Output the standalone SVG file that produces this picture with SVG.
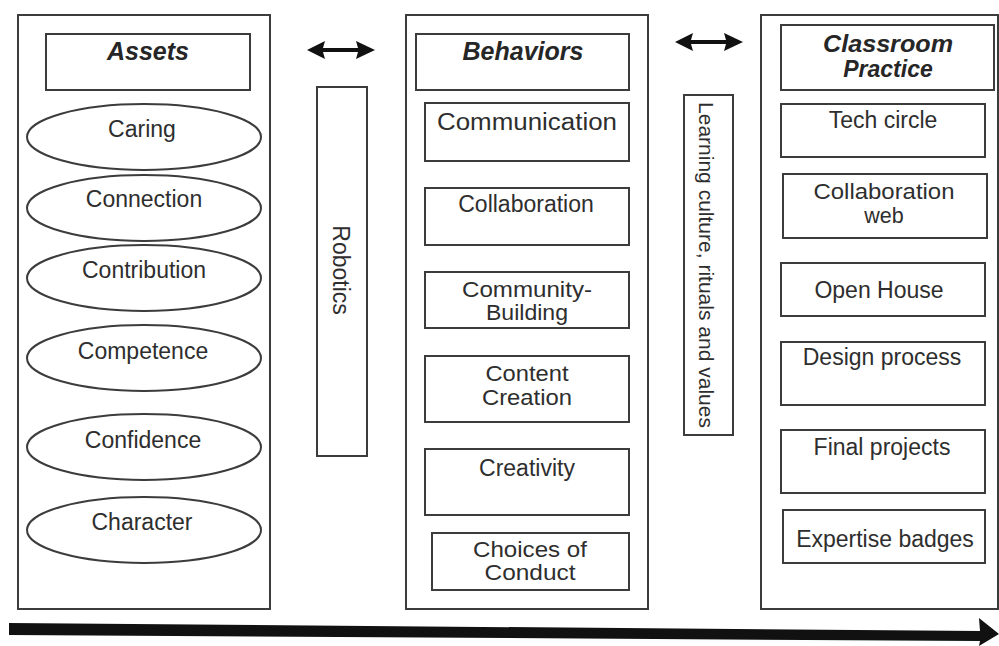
<svg xmlns="http://www.w3.org/2000/svg" width="999" height="646" viewBox="0 0 999 646">
<style>
.box{fill:none;stroke:#3c3c3c;stroke-width:2}
.t{font-family:"Liberation Sans",Arial,sans-serif;font-size:23px;fill:#2e2e2e;text-anchor:middle}
.t2{font-family:"Liberation Sans",Arial,sans-serif;font-size:21.5px;fill:#2e2e2e;text-anchor:middle}
.h{font-family:"Liberation Sans",Arial,sans-serif;font-size:25px;font-weight:bold;font-style:italic;fill:#262626;text-anchor:middle}
.h2{font-family:"Liberation Sans",Arial,sans-serif;font-size:23px;font-weight:bold;font-style:italic;fill:#262626;text-anchor:middle}
.arr{fill:#111;stroke:none}
</style>
<rect width="999" height="646" fill="#fff"/>
<g id="col-assets">
<rect class="box" x="18" y="15" width="252" height="594"/>
<g id="assets-header"><rect class="box" x="46" y="34" width="204" height="56"/><text class="h" x="148" y="60">Assets</text></g>
<g id="caring"><ellipse class="box" cx="144" cy="137" rx="117" ry="33"/><text class="t" x="142" y="137">Caring</text></g>
<g id="connection"><ellipse class="box" cx="144" cy="208" rx="117" ry="33"/><text class="t" x="144" y="207">Connection</text></g>
<g id="contribution"><ellipse class="box" cx="144" cy="278" rx="117" ry="33"/><text class="t" x="144" y="278">Contribution</text></g>
<g id="competence"><ellipse class="box" cx="144" cy="358" rx="117" ry="33"/><text class="t" x="143" y="359">Competence</text></g>
<g id="confidence"><ellipse class="box" cx="144" cy="447" rx="117" ry="33"/><text class="t" x="143" y="448">Confidence</text></g>
<g id="character"><ellipse class="box" cx="144" cy="530" rx="117" ry="33"/><text class="t" x="142" y="530">Character</text></g>
</g>
<g id="robotics">
<rect class="box" x="317" y="87" width="50" height="369"/>
<text class="t" transform="translate(333,270) rotate(90)" x="0" y="0">Robotics</text>
</g>
<g id="col-behaviors">
<rect class="box" x="406" y="15" width="242" height="594"/>
<g id="behaviors-header"><rect class="box" x="416" y="34" width="213" height="56"/><text class="h" x="523" y="60">Behaviors</text></g>
<g id="communication"><rect class="box" x="425" y="103" width="204" height="58"/><text class="t" x="527" y="130" textLength="180" lengthAdjust="spacingAndGlyphs">Communication</text></g>
<g id="collaboration"><rect class="box" x="425" y="188" width="204" height="57"/><text class="t" x="526" y="212">Collaboration</text></g>
<g id="community"><rect class="box" x="425" y="272" width="204" height="56"/><text class="t2" x="527" y="297" textLength="130" lengthAdjust="spacingAndGlyphs">Community-</text><text class="t2" x="527" y="320" textLength="82" lengthAdjust="spacingAndGlyphs">Building</text></g>
<g id="content"><rect class="box" x="425" y="356" width="204" height="66"/><text class="t2" x="527" y="381" textLength="83" lengthAdjust="spacingAndGlyphs">Content</text><text class="t2" x="527" y="405" textLength="90" lengthAdjust="spacingAndGlyphs">Creation</text></g>
<g id="creativity"><rect class="box" x="425" y="449" width="204" height="66"/><text class="t" x="527" y="476">Creativity</text></g>
<g id="choices"><rect class="box" x="432" y="533" width="197" height="57"/><text class="t2" x="530" y="557" textLength="114" lengthAdjust="spacingAndGlyphs">Choices of</text><text class="t2" x="530" y="580" textLength="91" lengthAdjust="spacingAndGlyphs">Conduct</text></g>
</g>
<g id="learning-culture">
<rect class="box" x="684" y="95" width="49" height="340"/>
<text class="t" style="font-size:20px" transform="translate(699,265) rotate(90)" x="0" y="0" textLength="326" lengthAdjust="spacingAndGlyphs">Learning culture, rituals and values</text>
</g>
<g id="col-practice">
<rect class="box" x="761" y="15" width="237" height="594"/>
<g id="practice-header"><rect class="box" x="781" y="25" width="213" height="65"/><text class="h2" x="888" y="52" textLength="130" lengthAdjust="spacingAndGlyphs">Classroom</text><text class="h2" x="888" y="77">Practice</text></g>
<g id="tech-circle"><rect class="box" x="781" y="104" width="204" height="53"/><text class="t" x="883" y="128">Tech circle</text></g>
<g id="collab-web"><rect class="box" x="783" y="174" width="204" height="64"/><text class="t2" x="884" y="199" textLength="141" lengthAdjust="spacingAndGlyphs">Collaboration</text><text class="t2" x="884" y="223">web</text></g>
<g id="open-house"><rect class="box" x="781" y="263" width="204" height="53"/><text class="t" x="879" y="298">Open House</text></g>
<g id="design-process"><rect class="box" x="781" y="342" width="204" height="63"/><text class="t" x="882" y="365">Design process</text></g>
<g id="final-projects"><rect class="box" x="781" y="430" width="204" height="63"/><text class="t" x="882" y="455">Final projects</text></g>
<g id="expertise-badges"><rect class="box" x="783" y="510" width="202" height="53"/><text class="t" x="885" y="547">Expertise badges</text></g>
</g>
<g id="connectors">
<path class="arr" d="M307,50 L325,41 L323,48 L358,48 L356,41 L375,50 L356,59 L358,52 L323,52 L325,59 Z"/>
<path class="arr" d="M675,42 L693,33 L691,40 L726,40 L724,33 L743,42 L724,51 L726,44 L691,44 L693,51 Z"/>
<path class="arr" d="M9,623 L980,631 L979,618 L999,634 L979,646 L980,641 L9,635 Z"/>
</g>
</svg>
